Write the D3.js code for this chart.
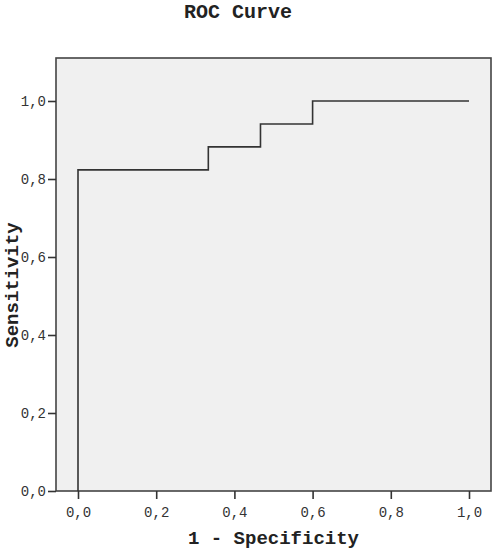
<!DOCTYPE html>
<html>
<head>
<meta charset="utf-8">
<script src="https://cdn.jsdelivr.net/npm/d3@7"></script>
<style>
  html, body { margin: 0; padding: 0; background: #ffffff; }
  svg { display: block; }
</style>
</head>
<body>
<svg id="chart" width="498" height="550"></svg>
<script>
// ROC step curve points (1 - Specificity, Sensitivity)
const fpr = [0, 0, 0.3333, 0.3333, 0.4667, 0.4667, 0.6, 0.6, 1.0];
const tpr = [0, 0.8235, 0.8235, 0.8824, 0.8824, 0.9412, 0.9412, 1.0, 1.0];
const xTicks = [0, 0.2, 0.4, 0.6, 0.8, 1.0];
const yTicks = [0, 0.2, 0.4, 0.6, 0.8, 1.0];
const titleText = "ROC Curve";
const xLabel = "1 - Specificity";
const yLabel = "Sensitivity";

const svg = d3.select("#chart");
const box = { left: 56, right: 491, top: 58, bottom: 491 };

const x = d3.scaleLinear().domain([0, 1]).range([78, 469]);
const y = d3.scaleLinear().domain([0, 1]).range([491, 101]);

const fmt = d => d3.format(".1f")(d).replace(".", ",");
const mono = "'Liberation Mono', 'Courier New', monospace";

// plot background
svg.append("rect")
  .attr("x", box.left).attr("y", box.top)
  .attr("width", box.right - box.left).attr("height", box.bottom - box.top)
  .attr("fill", "#f0f0f0")
  .attr("stroke", "#444").attr("stroke-width", 1.6);

// x axis
const xAxis = d3.axisBottom(x).tickValues(xTicks).tickFormat(fmt).tickSize(8).tickSizeOuter(0);
const gx = svg.append("g").attr("transform", `translate(0,${box.bottom})`).call(xAxis);
gx.select(".domain").remove();
gx.selectAll(".tick line").attr("stroke", "#333").attr("stroke-width", 1.6);
gx.selectAll(".tick text").attr("font-family", mono).attr("font-size", 14)
  .attr("fill", "#333").attr("y", 16);

// y axis
const yAxis = d3.axisLeft(y).tickValues(yTicks).tickFormat(fmt).tickSize(8).tickSizeOuter(0);
const gy = svg.append("g").attr("transform", `translate(${box.left},0)`).call(yAxis);
gy.select(".domain").remove();
gy.selectAll(".tick line").attr("stroke", "#333").attr("stroke-width", 1.6);
gy.selectAll(".tick text").attr("font-family", mono).attr("font-size", 14)
  .attr("fill", "#333").attr("x", -10);

// ROC curve
const pts = fpr.map((d, i) => [d, tpr[i]]);
svg.append("path")
  .datum(pts)
  .attr("fill", "none")
  .attr("stroke", "#333")
  .attr("stroke-width", 1.6)
  .attr("d", d3.line().x(d => x(d[0])).y(d => y(d[1])));

// title
svg.append("text")
  .attr("x", 238).attr("y", 18)
  .attr("text-anchor", "middle")
  .attr("font-family", mono).attr("font-weight", "bold").attr("font-size", 20)
  .attr("fill", "#222")
  .text(titleText);

// x label
svg.append("text")
  .attr("x", 273.5).attr("y", 544)
  .attr("text-anchor", "middle")
  .attr("font-family", mono).attr("font-weight", "bold").attr("font-size", 19)
  .attr("fill", "#222")
  .text(xLabel);

// y label
svg.append("text")
  .attr("transform", "translate(18,285) rotate(-90)")
  .attr("text-anchor", "middle")
  .attr("font-family", mono).attr("font-weight", "bold").attr("font-size", 19)
  .attr("fill", "#222")
  .text(yLabel);
</script>
</body>
</html>
